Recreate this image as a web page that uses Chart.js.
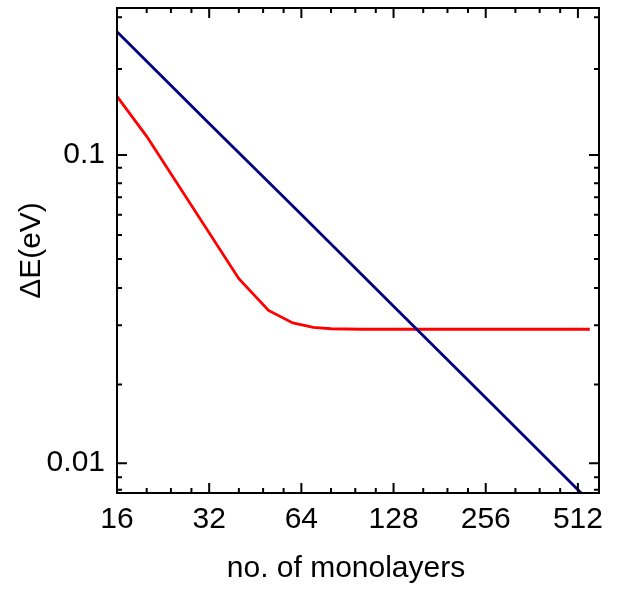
<!DOCTYPE html>
<html>
<head>
<meta charset="utf-8">
<script src="https://cdn.jsdelivr.net/npm/chart.js@4"></script>
<style>
  html, body { margin: 0; padding: 0; background: #fff; }
</style>
</head>
<body>
<canvas id="grafica" width="618" height="589"></canvas>
<script>
// datos
const blueX = [16, 32, 64, 128, 256, 512, 600];
const blueY = [0.251, 0.1265, 0.0641, 0.0323, 0.0163, 0.0082, 0.0070];
const redX = [16, 20, 40, 50, 60, 70, 80, 100, 560];
const redY = [0.155, 0.115, 0.0397, 0.0313, 0.0285, 0.0276, 0.0273, 0.0272, 0.0272];

// ticks
const xTicks = [16, 32, 64, 128, 256, 512];
const xMinor = [20, 24, 28, 40, 48, 56, 80, 96, 112, 160, 192, 224, 320, 384, 448];
const yTicks = [0.01, 0.1];
const yMinor = [0.28, 0.19, 0.091, 0.081, 0.073, 0.064, 0.055, 0.046, 0.037, 0.028, 0.018, 0.009, 0.0082];

const xTitulo = "no. of monolayers";
const fuente = "'Liberation Sans', Arial, Helvetica, sans-serif";

// marco y ticks hacia adentro en los 4 lados, mas el titulo del eje x
const marco = {
  id: "marco",
  afterDatasetsDraw(chart) {
    const { ctx, chartArea: a, scales } = chart;
    const x = scales.x, y = scales.y;
    ctx.save();
    ctx.strokeStyle = "#000";
    ctx.lineWidth = 2;
    ctx.beginPath();
    const tx = (v, len) => {
      const p = x.getPixelForValue(v);
      ctx.moveTo(p, a.bottom); ctx.lineTo(p, a.bottom - len);
      ctx.moveTo(p, a.top); ctx.lineTo(p, a.top + len);
    };
    const ty = (v, len) => {
      const p = y.getPixelForValue(v);
      ctx.moveTo(a.left, p); ctx.lineTo(a.left + len, p);
      ctx.moveTo(a.right, p); ctx.lineTo(a.right - len, p);
    };
    xTicks.forEach(v => tx(v, 10));
    xMinor.forEach(v => tx(v, 5));
    yTicks.forEach(v => ty(v, 10));
    yMinor.forEach(v => ty(v, 5));
    ctx.stroke();
    ctx.strokeRect(a.left, a.top, a.right - a.left, a.bottom - a.top);

    // titulo eje x (un poco corrido a la izquierda como en la figura)
    ctx.fillStyle = "#000";
    ctx.font = "30px " + fuente;
    ctx.textAlign = "center";
    ctx.textBaseline = "middle";
    ctx.fillText(xTitulo, 346, 569);
    ctx.restore();
  }
};

new Chart(document.getElementById("grafica"), {
  type: "line",
  data: {
    datasets: [
      {
        data: blueX.map((v, i) => ({ x: v, y: blueY[i] })),
        borderColor: "#000080",
        borderWidth: 2.8,
        pointRadius: 0,
        tension: 0
      },
      {
        data: redX.map((v, i) => ({ x: v, y: redY[i] })),
        borderColor: "#ff0000",
        borderWidth: 2.8,
        pointRadius: 0,
        tension: 0
      }
    ]
  },
  options: {
    responsive: false,
    animation: false,
    events: [],
    layout: { padding: { top: 8, right: 19, left: 0, bottom: 0 } },
    plugins: { legend: { display: false }, tooltip: { enabled: false } },
    scales: {
      x: {
        type: "logarithmic",
        min: 16,
        max: 600,
        bounds: "data",
        grid: { display: false, drawTicks: false },
        border: { display: false },
        afterBuildTicks: s => { s.ticks = xTicks.map(v => ({ value: v })); },
        afterFit: s => {
          s.height = 96;
          s.paddingLeft = 0; s.paddingRight = 0;
        },
        ticks: {
          autoSkip: false,
          maxRotation: 0,
          padding: 9,
          color: "#000",
          font: { family: fuente, size: 30 },
          callback: v => String(v)
        }
      },
      y: {
        type: "logarithmic",
        min: 0.008,
        max: 0.3,
        bounds: "data",
        grid: { display: false, drawTicks: false },
        border: { display: false },
        afterBuildTicks: s => { s.ticks = yTicks.map(v => ({ value: v })); },
        afterFit: s => {
          s.width = 117;
          s.paddingTop = 0; s.paddingBottom = 0;
        },
        ticks: {
          autoSkip: false,
          padding: 12,
          color: "#000",
          font: { family: fuente, size: 30 },
          callback: v => String(v)
        },
        title: {
          display: true,
          text: "ΔE(eV)",
          color: "#000",
          font: { family: fuente, size: 30 },
          padding: { top: 14, bottom: 0 }
        }
      }
    }
  },
  plugins: [marco]
});
</script>
</body>
</html>
